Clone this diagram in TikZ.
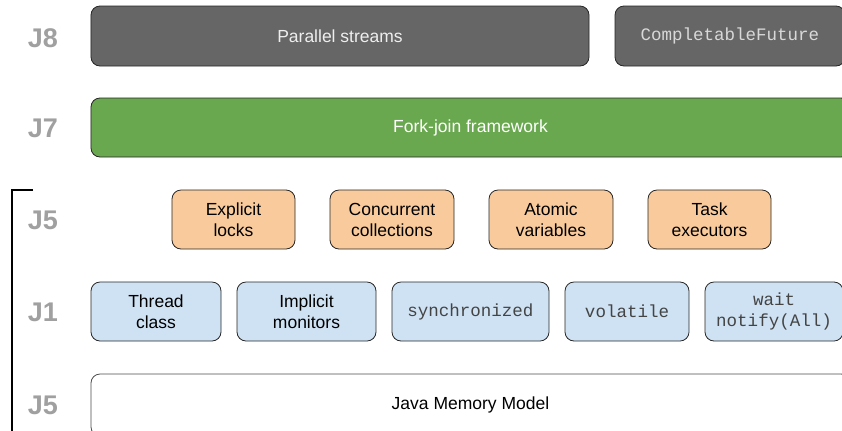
\documentclass[tikz,border=0pt]{standalone}
\usepackage{fontspec}
\setmainfont{Liberation Sans}
\setmonofont{Liberation Mono}
\definecolor{darkbox}{HTML}{666666}
\definecolor{greenbox}{HTML}{6AA84F}
\definecolor{orangebox}{HTML}{F9CB9C}
\definecolor{bluebox}{HTML}{CFE2F3}
\definecolor{labelgray}{HTML}{A0A0A0}
\definecolor{lighttext}{HTML}{EEEEEE}
\definecolor{monotext}{HTML}{444444}
\definecolor{monolight}{HTML}{D8D8D8}
\newcommand\bxfont{\fontsize{17.5bp}{21bp}\selectfont}
\newcommand\lblfont{\fontsize{27bp}{27bp}\selectfont\bfseries}
\begin{document}
\begin{tikzpicture}[x=1bp,y=-1bp,
  box/.style={draw=black!85, line width=0.8bp, rounded corners=9bp, inner sep=0pt, align=center, font=\bxfont},
  darkstyle/.style={box, fill=darkbox, text=lighttext},
  greenstyle/.style={box, fill=greenbox, text=white},
  orangestyle/.style={box, fill=orangebox, text=black},
  bluestyle/.style={box, fill=bluebox, text=black},
  whitestyle/.style={box, draw=black!70, fill=white, text=black},
  lbl/.style={font=\lblfont, text=labelgray, inner sep=0pt}]
\useasboundingbox (0,0) rectangle (842,430);
\clip (0,0) rectangle (842,430);
% labels
\node[lbl] (l8) at (43,38) {J8};
\node[lbl] (l7) at (43,128) {J7};
\node[lbl] (l5a) at (43,220) {J5};
\node[lbl] (l1) at (43,312) {J1};
\node[lbl] (l5b) at (43,405) {J5};
% J8
\node[darkstyle, minimum width=498bp, minimum height=60bp] (ps) at (340,36) {Parallel streams};
\node[darkstyle, text=monolight, minimum width=230bp, minimum height=60bp] (cf) at (730,36) {\texttt{CompletableFuture}};
% J7
\node[greenstyle, minimum width=759bp, minimum height=59bp] (fj) at (470.5,127.5) {Fork-join framework};
% J5
\node[orangestyle, minimum width=123bp, minimum height=59bp] (el) at (233.5,219.5) {Explicit\\locks};
\node[orangestyle, minimum width=124bp, minimum height=59bp] (cc) at (392,219.5) {Concurrent\\collections};
\node[orangestyle, minimum width=124bp, minimum height=59bp] (av) at (551,219.5) {Atomic\\variables};
\node[orangestyle, minimum width=123bp, minimum height=59bp] (te) at (709.5,219.5) {Task\\executors};
% J1
\node[bluestyle, minimum width=130bp, minimum height=59bp] (tc) at (156,311.5) {Thread\\class};
\node[bluestyle, minimum width=139bp, minimum height=59bp] (im) at (306.5,311.5) {Implicit\\monitors};
\node[bluestyle, text=monotext, minimum width=157bp, minimum height=59bp] (sy) at (470.5,311.5) {\texttt{synchronized}};
\node[bluestyle, text=monotext, minimum width=124bp, minimum height=59bp] (vo) at (627,311.5) {\texttt{volatile}};
\node[bluestyle, text=monotext, minimum width=138bp, minimum height=59bp] (wn) at (774,311.5) {\texttt{wait}\\\texttt{notify(All)}};
% J5 memory model
\node[whitestyle, minimum width=759bp, minimum height=62bp] (jm) at (470.5,405) {Java Memory Model};
% bracket
\coordinate (bt) at (33,190);
\coordinate (bc) at (12,190);
\coordinate (bb) at (12,440);
\draw[line width=1.5bp, black] (bt) -- (bc) -- (bb);
\end{tikzpicture}
\end{document}
